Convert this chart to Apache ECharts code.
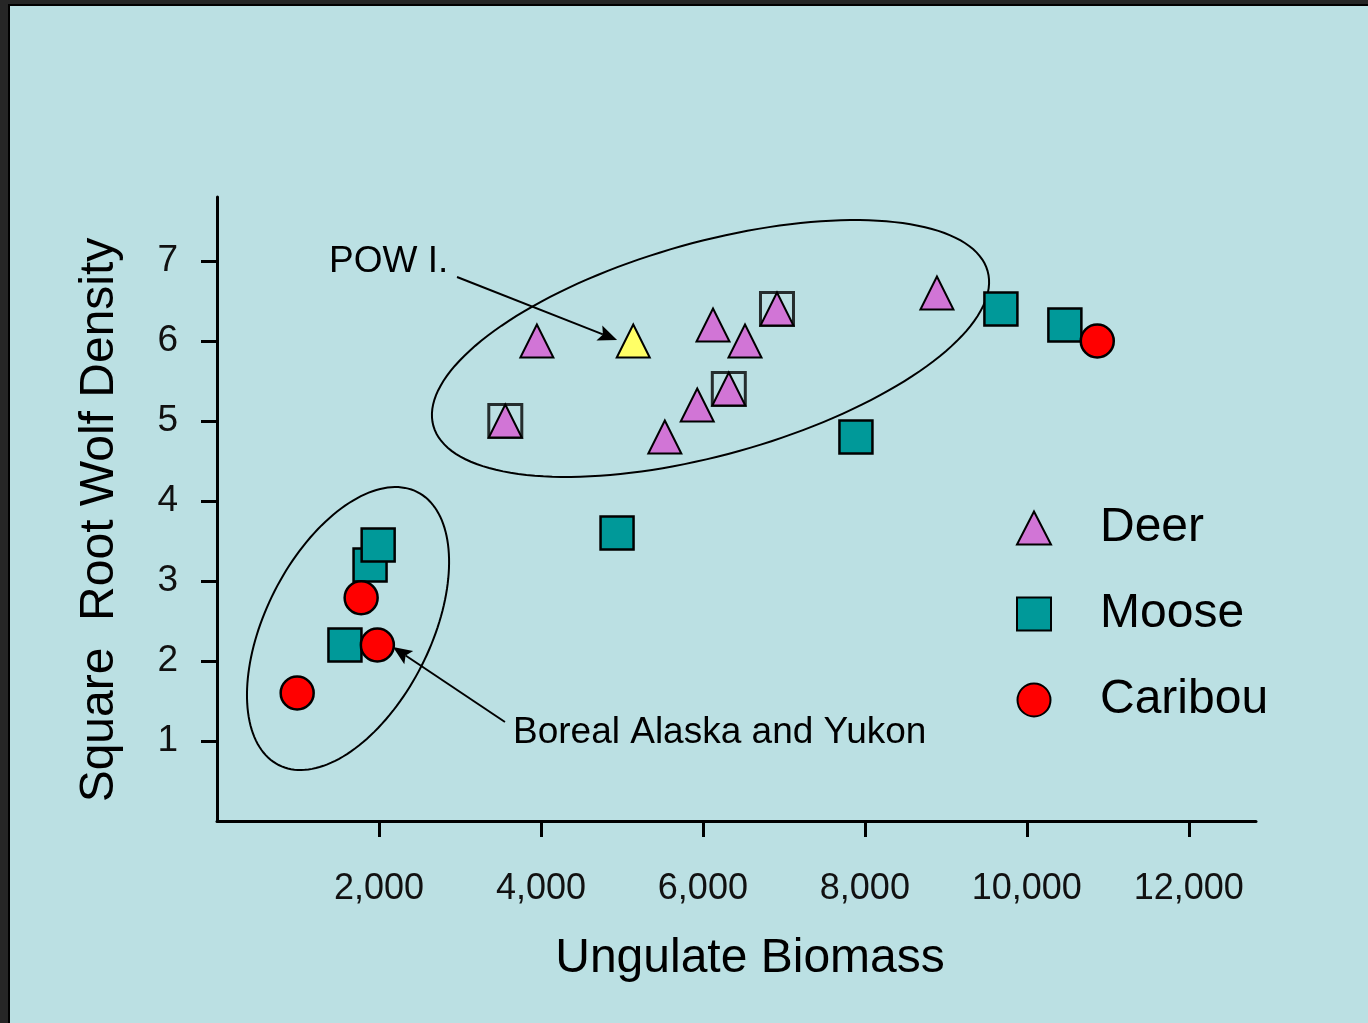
<!DOCTYPE html>
<html>
<head>
<meta charset="utf-8">
<script src="https://cdn.jsdelivr.net/npm/echarts@6/dist/echarts.min.js"></script>
<style>
html,body{margin:0;padding:0;width:1368px;height:1023px;background:#262626;overflow:hidden;}
#frame{position:absolute;left:8px;top:4px;right:0;bottom:0;border-left:2px solid #000;border-top:2px solid #000;background:#BBE0E3;}
#chart{position:absolute;left:0;top:0;width:1368px;height:1023px;}
</style>
</head>
<body>
<div id="frame"></div>
<div id="chart"></div>
<script>
// ---- data ----
const xTicks = [2000, 4000, 6000, 8000, 10000, 12000];
const yTicks = [1, 2, 3, 4, 5, 6, 7];

const deerX = [3560, 3950, 5530, 5930, 6125, 6320, 6520, 6915, 8890];
const deerY = [5.0, 6.0, 4.8, 5.2, 6.2, 5.4, 6.0, 6.4, 6.6];
const powX = 5140, powY = 6.0;               // POW I. (highlighted deer point)

const mooseX = [1580, 1890, 1990, 4940, 7890, 9680, 10470];
const mooseY = [2.2, 3.2, 3.45, 3.6, 4.8, 6.4, 6.2];

const caribouX = [990, 1780, 1980, 10870];
const caribouY = [1.6, 2.79, 2.2, 6.0];

const openSquareX = [3560, 6320, 6915];        // hollow squares around deer points
const openSquareY = [5.0, 5.4, 6.4];

// annotation ellipses: [centerX, centerY, u_x, u_y, v_x, v_y] (data units)
const bigEllipse = [6094, 5.906, 3422, 0.9675, 353, -1.281];
const smallEllipse = [1618, 2.406, 856, 1.706, 908, -0.466];

// annotation arrows: [fromX, fromY, toX, toY]
const powArrow = [2964, 6.8, 4940, 6.0125];
const borealArrow = [3556, 1.2375, 2173, 2.175];

// annotation texts
const annoTextX = [1383, 3655];
const annoTextY = [6.99, 1.1];
const annoText = ['POW I.', 'Boreal Alaska and Yukon'];

// ---- chart ----
const FONT = "'Liberation Sans', Arial, sans-serif";
const zip = (a, b) => a.map((v, i) => [v, b[i]]);
const fmt = v => Number(v).toLocaleString('en-US');

const deerData = zip(deerX, deerY);
deerData.splice(2, 0, {value: [powX, powY], itemStyle: {color: '#FFFF66'}});

const chart = echarts.init(document.getElementById('chart'), null, {renderer: 'canvas'});

const axisCommonX = {type: 'value', min: 0, max: 12830, splitLine: {show: false}};
const axisCommonY = {type: 'value', min: 0, max: 7.8, splitLine: {show: false}};

chart.setOption({
  backgroundColor: 'transparent',
  animation: false,
  textStyle: {fontFamily: FONT},
  grid: {left: 217, top: 197, right: 112, bottom: 202, containLabel: false, outerBoundsMode: 'none'},
  legend: {
    orient: 'vertical', left: 1011, top: 499,
    itemWidth: 34, itemHeight: 33, itemGap: 38,
    textStyle: {fontSize: 48, lineHeight: 48, color: '#000', fontFamily: FONT, padding: [0, 0, 0, 44]},
    data: ['Deer', 'Moose', 'Caribou']
  },
  xAxis: [
    Object.assign({}, axisCommonX, {
      axisLine: {lineStyle: {color: '#000', width: 3}},
      axisTick: {show: true, length: 16, lineStyle: {color: '#000', width: 3}, customValues: xTicks},
      axisLabel: {customValues: xTicks, formatter: fmt, fontSize: 36, margin: 50, color: '#111', fontFamily: FONT},
      name: 'Ungulate Biomass', nameLocation: 'middle', nameGap: 114,
      nameTextStyle: {fontSize: 48, color: '#000', fontFamily: FONT, padding: [0, 0, 0, 27]}
    }),
    Object.assign({}, axisCommonX, {
      axisLine: {show: false},
      axisTick: {show: true, inside: true, length: 16, lineStyle: {color: '#000', width: 3}, customValues: xTicks},
      axisLabel: {show: false}
    })
  ],
  yAxis: [
    Object.assign({}, axisCommonY, {
      axisLine: {lineStyle: {color: '#000', width: 3}},
      axisTick: {show: true, length: 16, lineStyle: {color: '#000', width: 3}, customValues: yTicks},
      axisLabel: {customValues: yTicks, fontSize: 37, margin: 39, color: '#111', fontFamily: FONT},
      name: 'Square  Root Wolf Density', nameLocation: 'middle', nameGap: 93,
      nameTextStyle: {fontSize: 48, color: '#000', fontFamily: FONT, padding: [0, 22, 0, 0]}
    }),
    Object.assign({}, axisCommonY, {
      axisLine: {show: false},
      axisTick: {show: true, inside: true, length: 16, lineStyle: {color: '#000', width: 3}, customValues: yTicks},
      axisLabel: {show: false}
    })
  ],
  series: [
    {
      name: 'ellipses', type: 'custom', coordinateSystem: 'cartesian2d', silent: true, z: 1, clip: false,
      encode: {x: 0, y: 1},
      data: [bigEllipse, smallEllipse],
      renderItem: function (params, api) {
        const cx = api.value(0), cy = api.value(1), ux = api.value(2), uy = api.value(3), vx = api.value(4), vy = api.value(5);
        const pts = [];
        const N = 160;
        for (let i = 0; i < N; i++) {
          const t = i / N * Math.PI * 2;
          pts.push(api.coord([cx + ux * Math.cos(t) + vx * Math.sin(t), cy + uy * Math.cos(t) + vy * Math.sin(t)]));
        }
        return {type: 'polygon', shape: {points: pts}, style: {fill: 'none', stroke: '#000', lineWidth: 2}};
      }
    },
    {
      name: 'arrows', type: 'custom', coordinateSystem: 'cartesian2d', silent: true, z: 6, clip: false,
      encode: {x: 0, y: 1},
      data: [powArrow, borealArrow],
      renderItem: function (params, api) {
        const p1 = api.coord([api.value(0), api.value(1)]);
        const p2 = api.coord([api.value(2), api.value(3)]);
        const dx = p2[0] - p1[0], dy = p2[1] - p1[1];
        const len = Math.sqrt(dx * dx + dy * dy);
        const ux = dx / len, uy = dy / len, nx = -uy, ny = ux;
        const hl = 19, hw = 8;
        const base = [p2[0] - ux * hl, p2[1] - uy * hl];
        const notch = [p2[0] - ux * hl * 0.8, p2[1] - uy * hl * 0.8];
        return {
          type: 'group',
          children: [
            {type: 'line', shape: {x1: p1[0], y1: p1[1], x2: notch[0], y2: notch[1]}, style: {stroke: '#000', lineWidth: 2}},
            {type: 'polygon', shape: {points: [p2, [base[0] + nx * hw, base[1] + ny * hw], notch, [base[0] - nx * hw, base[1] - ny * hw]]}, style: {fill: '#000'}}
          ]
        };
      }
    },
    {
      name: 'texts', type: 'custom', coordinateSystem: 'cartesian2d', silent: true, z: 6, clip: false,
      encode: {x: 0, y: 1},
      data: annoTextX.map((x, i) => [x, annoTextY[i], i]),
      renderItem: function (params, api) {
        const p = api.coord([api.value(0), api.value(1)]);
        return {type: 'text', x: p[0], y: p[1], style: {text: annoText[api.value(2)], fill: '#000', font: '37px ' + FONT, align: 'left', verticalAlign: 'middle'}};
      }
    },
    {
      name: 'open squares', type: 'scatter', symbol: 'rect', symbolSize: 33, z: 3,
      itemStyle: {color: 'rgba(0,0,0,0)', borderColor: '#000', borderWidth: 3},
      data: zip(openSquareX, openSquareY)
    },
    {
      name: 'Deer', type: 'scatter', symbol: 'triangle', symbolSize: 33, z: 4,
      itemStyle: {color: '#D175D6', borderColor: '#000', borderWidth: 2, opacity: 1},
      data: deerData
    },
    {
      name: 'Moose', type: 'scatter', symbol: 'rect', symbolSize: 33, z: 4,
      itemStyle: {color: '#009999', borderColor: '#000', borderWidth: 2.5, opacity: 1},
      data: zip(mooseX, mooseY)
    },
    {
      name: 'Caribou', type: 'scatter', symbol: 'circle', symbolSize: 33, z: 5,
      itemStyle: {color: '#FF0000', borderColor: '#000', borderWidth: 2.5, opacity: 1},
      data: zip(caribouX, caribouY)
    }
  ]
});
</script>
</body>
</html>
